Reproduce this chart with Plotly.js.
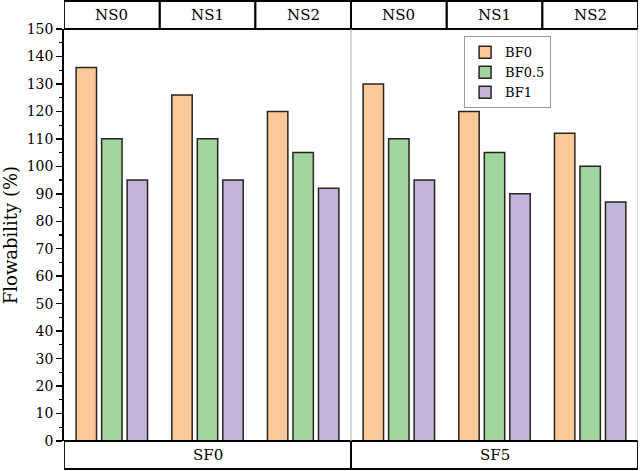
<!DOCTYPE html>
<html>
<head>
<meta charset="utf-8">
<script src="https://cdn.plot.ly/plotly-3.0.1.min.js"></script>
<style>
  html, body { margin: 0; padding: 0; background: #fff; }
  #chart { width: 640px; height: 471px; }
</style>
</head>
<body>
<div id="chart"></div>
<script>
// data
const groups = ['SF0', 'SF5'];
const subGroups = ['NS0', 'NS1', 'NS2'];
const categories = ['SF0 NS0', 'SF0 NS1', 'SF0 NS2', 'SF5 NS0', 'SF5 NS1', 'SF5 NS2'];
const seriesNames = ['BF0', 'BF0.5', 'BF1'];
const bf0 = [136, 126, 120, 130, 120, 112];
const bf05 = [110, 110, 105, 110, 105, 100];
const bf1 = [95, 95, 92, 95, 90, 87];

const colors = ['#FBC898', '#A2D4A0', '#C2B3DA'];
const font = 'DejaVu Serif';

const values = [bf0, bf05, bf1];
const data = values.map((v, i) => ({
  type: 'bar',
  name: seriesNames[i],
  x: categories,
  y: v,
  marker: { color: colors[i], line: { color: '#2a2420', width: 1.5 } },
}));

const plotH = 471 - 29 - 30;
const topY = 1 + 28 / plotH;
const botY = -28 / plotH;

const shapes = [];
const annotations = [];

// header boxes NS0..NS2 above each group
categories.forEach((c, i) => {
  shapes.push({
    type: 'rect', xref: 'x', yref: 'paper',
    x0: i - 0.5, x1: i + 0.5, y0: 1, y1: topY,
    line: { color: '#000', width: 1.8 }, fillcolor: 'rgba(0,0,0,0)'
  });
  annotations.push({
    xref: 'x', yref: 'paper', x: i, y: (1 + topY) / 2,
    xanchor: 'center', yanchor: 'middle',
    text: subGroups[i % 3], showarrow: false,
    font: { family: font, size: 15, color: '#000' }
  });
});

// footer boxes SF0 / SF5
groups.forEach((g, j) => {
  shapes.push({
    type: 'rect', xref: 'x', yref: 'paper',
    x0: j * 3 - 0.5, x1: j * 3 + 2.5, y0: botY, y1: 0,
    line: { color: '#000', width: 1.8 }, fillcolor: 'rgba(0,0,0,0)'
  });
  annotations.push({
    xref: 'x', yref: 'paper', x: j * 3 + 1, y: botY / 2,
    xanchor: 'center', yanchor: 'middle',
    text: g, showarrow: false,
    font: { family: font, size: 15, color: '#000' }
  });
});

// grey separators inside the plot
[2.5, 5.5].forEach(xv => {
  shapes.push({
    type: 'line', xref: 'x', yref: 'paper',
    x0: xv, x1: xv, y0: 0, y1: 1,
    line: { color: '#aaaaaa', width: 1 }
  });
});

const layout = {
  width: 640,
  height: 471,
  margin: { l: 64, r: 2, t: 29, b: 30 },
  paper_bgcolor: '#fff',
  plot_bgcolor: '#fff',
  font: { family: font, color: '#000' },
  barmode: 'group',
  bargap: 0.2,
  bargroupgap: 0.2,
  showlegend: true,
  legend: {
    x: 0.697, y: 0.982, xanchor: 'left', yanchor: 'top',
    bgcolor: '#fff', bordercolor: '#999', borderwidth: 1,
    font: { family: font, size: 13, color: '#000' },
    tracegroupgap: 0, itemwidth: 30
  },
  xaxis: {
    type: 'category',
    range: [-0.5, 5.5],
    showticklabels: false,
    ticks: '',
    showgrid: false,
    zeroline: false,
    showline: false
  },
  yaxis: {
    range: [0, 150],
    dtick: 10,
    tick0: 0,
    ticks: 'outside',
    ticklen: 6,
    tickwidth: 1.5,
    tickcolor: '#000',
    minor: { dtick: 5, ticks: 'outside', ticklen: 3, tickwidth: 1.2, tickcolor: '#000' },
    showgrid: false,
    zeroline: false,
    showline: true,
    linecolor: '#000',
    linewidth: 1.8,
    tickfont: { family: font, size: 14, color: '#000' },
    title: { text: 'Flowability (%)', font: { family: font, size: 18, color: '#000' }, standoff: 4 }
  },
  shapes: shapes,
  annotations: annotations
};

Plotly.newPlot('chart', data, layout, { displayModeBar: false, staticPlot: true });
</script>
</body>
</html>
